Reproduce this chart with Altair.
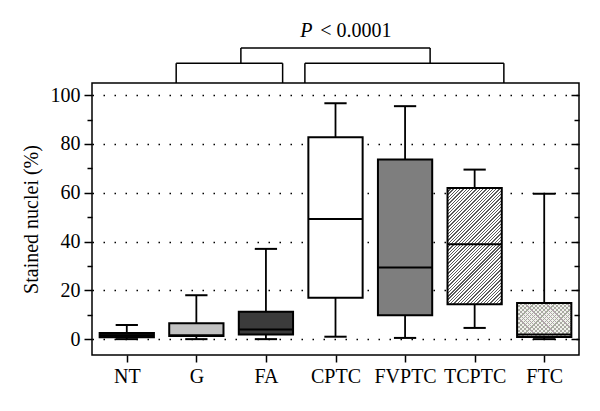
import json
import math
import altair as alt
import pandas as pd

# ---------------- data ----------------
categories = ["NT", "G", "FA", "CPTC", "FVPTC", "TCPTC", "FTC"]
whisker_low = [0.0, 0.0, 0.0, 1.0, 0.5, 4.6, 0.0]
q1 = [0.8, 1.3, 1.9, 17.0, 9.8, 14.3, 0.9]
median = [1.5, 1.6, 4.0, 49.2, 29.4, 38.9, 1.9]
q3 = [2.5, 6.5, 11.2, 82.8, 73.6, 62.0, 14.8]
whisker_high = [5.8, 18.0, 37.0, 96.7, 95.5, 69.5, 59.6]
box_fill = ["#111111", "#c2c2c2", "#3b3b3b", "#ffffff", "#7e7e7e", "#ffffff", "#f0f2ec"]

y_ticks = [0, 10, 20, 30, 40, 50, 60, 70, 80, 90, 100]

# significance brackets (category-index units / value units)
bracket_left = [0.71, 2.56, 1.64]
bracket_right = [2.24, 5.42, 4.36]
bracket_base = [105.0, 105.0, 113.1]
bracket_top = [113.1, 113.1, 119.3]
p_italic = "P"
p_rest = "< 0.0001"
p_anchor_x = [2.67, 2.78]
p_anchor_y = 123.9

# ---------------- styles ----------------
FONT = "Liberation Serif"
FS = 20
BOX_HALF = 0.39
CAP_HALF = 0.16
W, H = 487, 272
Y_DOMAIN = [-6.5, 105.0]
PX_PER_UNIT = H / (Y_DOMAIN[1] - Y_DOMAIN[0])
BOX_PX = 2 * BOX_HALF * W / 7.0

idx = list(range(len(categories)))
df = pd.DataFrame({
    "idx": idx, "cat": categories, "lo": whisker_low, "q1": q1, "med": median,
    "q3": q3, "hi": whisker_high, "fill": box_fill,
})
df["left"] = df["idx"] - BOX_HALF
df["right"] = df["idx"] + BOX_HALF
df["capl"] = df["idx"] - CAP_HALF
df["capr"] = df["idx"] + CAP_HALF

segs = []
for l, r, b, t in zip(bracket_left, bracket_right, bracket_base, bracket_top):
    segs.append({"x": l, "x2": l, "y": b, "y2": t})
    segs.append({"x": r, "x2": r, "y": b, "y2": t})
    segs.append({"x": l, "x2": r, "y": t, "y2": t})
df_br = pd.DataFrame(segs)

df_txt = pd.DataFrame({"x": p_anchor_x, "y": [p_anchor_y, p_anchor_y], "t": [p_italic, p_rest]})


def stripes(w, h, period, frac, line_color, bg_color, rising=True):
    s = (w + h) / (w * w + h * h)
    if rising:
        x1, y1, x2, y2 = 0.0, 0.0, s * w, s * h
    else:
        x1, y1, x2, y2 = 1.0, 0.0, 1.0 - s * w, s * h
    n = max(1, round((w + h) / math.sqrt(2) / period))
    stops = []
    for i in range(n):
        a, b, c = i / n, (i + frac) / n, (i + 1) / n
        stops += [
            {"offset": a, "color": line_color},
            {"offset": b, "color": line_color},
            {"offset": b, "color": bg_color},
            {"offset": c, "color": bg_color},
        ]
    return {"gradient": "linear", "x1": x1, "y1": y1, "x2": x2, "y2": y2, "stops": stops}


def box_px_height(cat):
    r = df[df.cat == cat].iloc[0]
    return (r.q3 - r.q1) * PX_PER_UNIT


tc_h = box_px_height("TCPTC")
ftc_h = box_px_height("FTC")
grad_tc = stripes(BOX_PX, tc_h, 2.3, 0.4, "#5a5a5a", "#ffffff", rising=True)
grad_ftc1 = stripes(BOX_PX, ftc_h, 3.0, 0.3, "#a3ae9b", "rgba(255,255,255,0)", rising=True)
grad_ftc2 = stripes(BOX_PX, ftc_h, 3.0, 0.3, "#b0a4ab", "rgba(255,255,255,0)", rising=False)

xscale = alt.Scale(domain=[-0.5, 6.5], nice=False, zero=False)
yscale = alt.Scale(domain=Y_DOMAIN, nice=False, zero=False)

major_test = "datum.value % 20 === 0"
xaxis = alt.Axis(
    values=idx,
    labelExpr=json.dumps(categories) + "[datum.value]",
    tickSize=7, tickWidth=1.5, tickColor="black", domain=False, grid=False,
    labelFont=FONT, labelFontSize=FS, labelColor="black", labelPadding=4, title=None,
)
yaxis_left = alt.Axis(
    values=y_ticks,
    labelExpr=f"{major_test} ? datum.label : ''",
    tickSize={"condition": {"test": major_test, "value": 8}, "value": 5},
    tickWidth=1.5, tickColor="black", domain=False,
    grid=True, gridDash=[1.5, 9.5], gridColor="black", gridWidth=1.5,
    gridOpacity={"condition": {"test": major_test, "value": 1}, "value": 0},
    labelFont=FONT, labelFontSize=FS, labelColor="black", labelPadding=4,
    title="Stained nuclei (%)", titleFont=FONT, titleFontSize=FS, titleFontWeight="normal",
    titleColor="black", titleX=-61, titleY=H / 2, titleAngle=270, titleAlign="center",
    titleBaseline="middle",
)
yaxis_inner_right = alt.Axis(
    orient="left", offset=-W, values=y_ticks,
    tickSize={"condition": {"test": major_test, "value": 8}, "value": 5},
    tickWidth=1.5, tickColor="black", labels=False, grid=False, domain=False, title=None,
)

base = alt.Chart(df)

fill_layer = base.mark_rect(strokeWidth=0).encode(
    x=alt.X("left:Q", scale=xscale, axis=xaxis), x2="right:Q",
    y=alt.Y("q1:Q", scale=yscale, axis=yaxis_left), y2="q3:Q",
    fill=alt.Fill("fill:N", scale=None),
)


def hatch(cat, grad):
    return base.transform_filter(alt.datum.cat == cat).mark_rect(fill=grad, strokeWidth=0).encode(
        x=alt.X("left:Q", scale=xscale, axis=xaxis), x2="right:Q",
        y=alt.Y("q1:Q", scale=yscale, axis=None), y2="q3:Q",
    )


outline = base.mark_rect(fill="transparent", stroke="black", strokeWidth=2).encode(
    x=alt.X("left:Q", scale=xscale, axis=xaxis), x2="right:Q",
    y=alt.Y("q1:Q", scale=yscale, axis=yaxis_inner_right), y2="q3:Q",
)
medians = base.mark_rule(color="black", strokeWidth=2).encode(
    x=alt.X("left:Q", scale=xscale, axis=xaxis), x2="right:Q",
    y=alt.Y("med:Q", scale=yscale, axis=None),
)
whisk_hi = base.mark_rule(color="black", strokeWidth=1.8).encode(
    x=alt.X("idx:Q", scale=xscale, axis=xaxis),
    y=alt.Y("q3:Q", scale=yscale, axis=None), y2="hi:Q",
)
whisk_lo = base.mark_rule(color="black", strokeWidth=1.8).encode(
    x=alt.X("idx:Q", scale=xscale, axis=xaxis),
    y=alt.Y("lo:Q", scale=yscale, axis=None), y2="q1:Q",
)
cap_hi = base.mark_rule(color="black", strokeWidth=2).encode(
    x=alt.X("capl:Q", scale=xscale, axis=xaxis), x2="capr:Q",
    y=alt.Y("hi:Q", scale=yscale, axis=None),
)
cap_lo = base.mark_rule(color="black", strokeWidth=2).encode(
    x=alt.X("capl:Q", scale=xscale, axis=xaxis), x2="capr:Q",
    y=alt.Y("lo:Q", scale=yscale, axis=None),
)
brackets = alt.Chart(df_br).mark_rule(color="black", strokeWidth=1.5).encode(
    x=alt.X("x:Q", scale=xscale, axis=xaxis), x2="x2:Q",
    y=alt.Y("y:Q", scale=yscale, axis=None), y2="y2:Q",
)
txt_p = alt.Chart(df_txt).transform_filter(alt.datum.t == p_italic).mark_text(
    font=FONT, fontSize=FS, fontStyle="italic", align="right", baseline="alphabetic", color="black"
).encode(
    x=alt.X("x:Q", scale=xscale, axis=xaxis),
    y=alt.Y("y:Q", scale=yscale, axis=None), text="t:N",
)
txt_rest = alt.Chart(df_txt).transform_filter(alt.datum.t == p_rest).mark_text(
    font=FONT, fontSize=FS, align="left", baseline="alphabetic", color="black"
).encode(
    x=alt.X("x:Q", scale=xscale, axis=xaxis),
    y=alt.Y("y:Q", scale=yscale, axis=None), text="t:N",
)

chart = alt.layer(
    fill_layer,
    hatch("TCPTC", grad_tc),
    hatch("FTC", grad_ftc1),
    hatch("FTC", grad_ftc2),
    whisk_hi, whisk_lo, cap_hi, cap_lo,
    outline, medians, brackets, txt_p, txt_rest,
).resolve_axis(y="independent").properties(
    width=W, height=H,
    autosize=alt.AutoSizeParams(type="none"),
    padding={"left": 84, "top": 75, "right": 13, "bottom": 48},
).configure_view(stroke="black", strokeWidth=1.5)

chart.save("out.html", embed_options={"renderer": "svg", "actions": False})
